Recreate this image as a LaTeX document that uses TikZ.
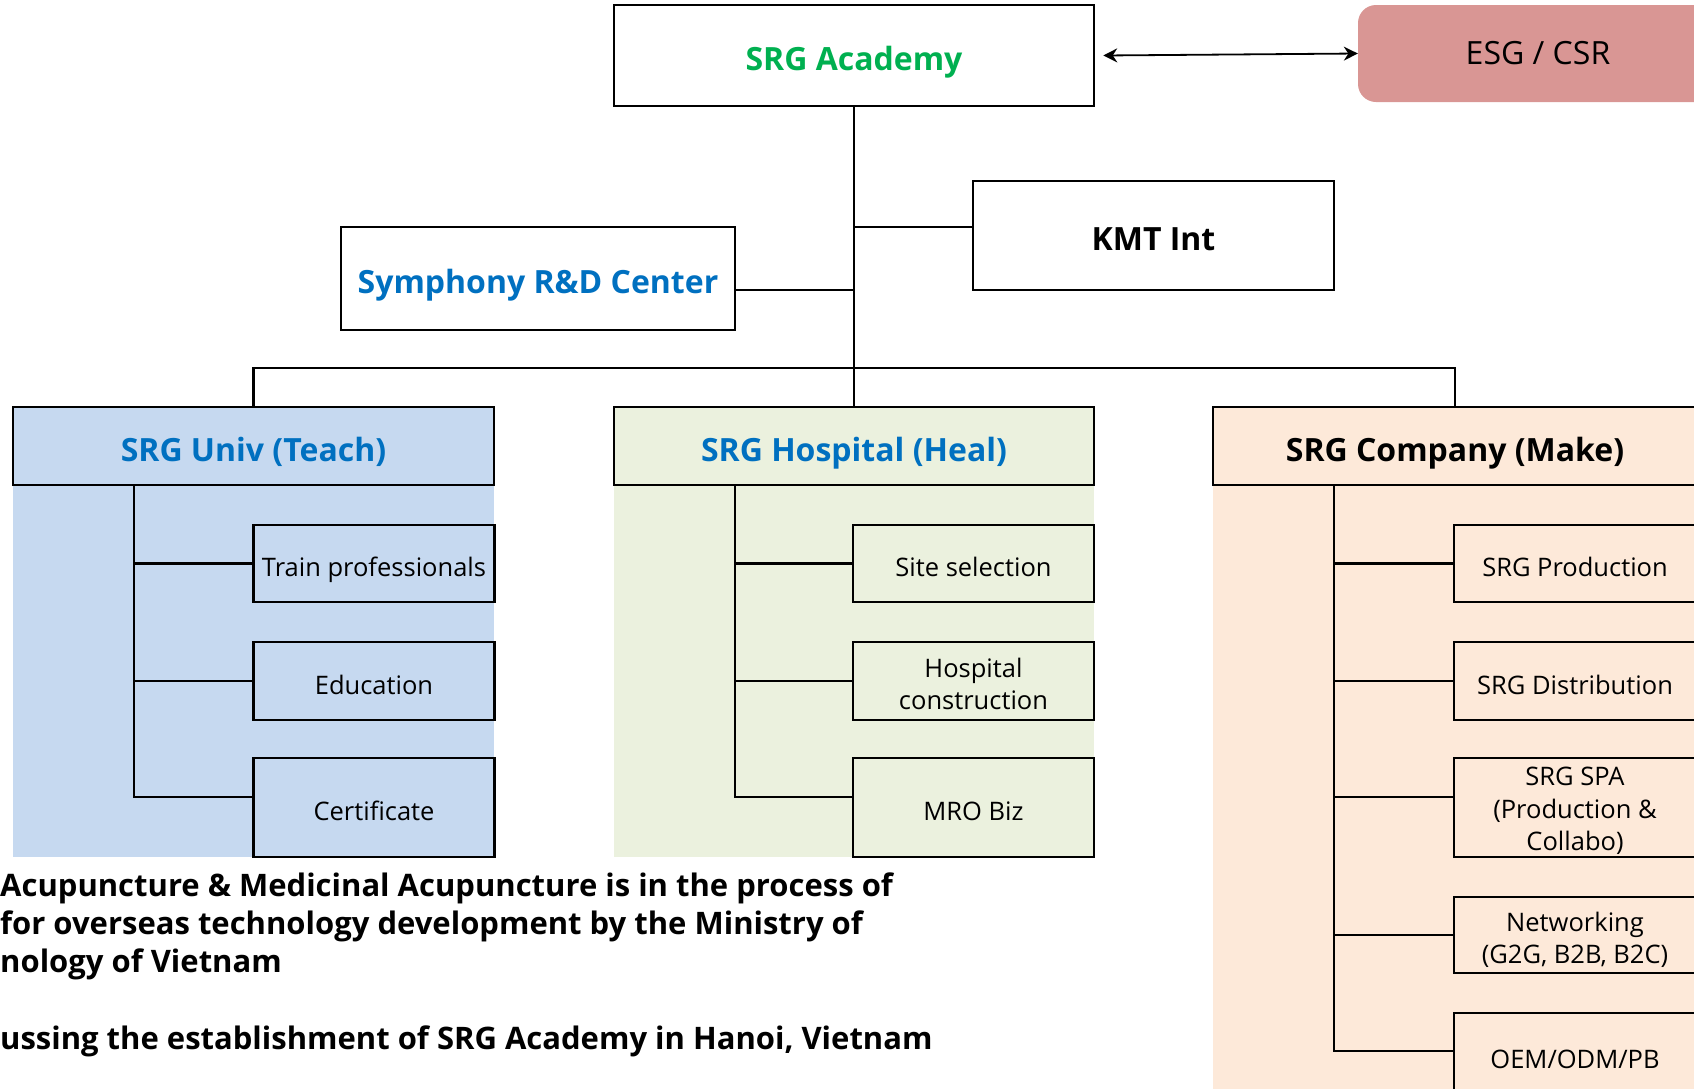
\documentclass[tikz,border=0pt]{standalone}
\usepackage{fontspec}
\setmainfont{Open Sans}
\usetikzlibrary{arrows.meta}
\definecolor{acgreen}{HTML}{00B050}
\definecolor{acblue}{HTML}{0070C0}
\definecolor{teachbg}{HTML}{C6D9F0}
\definecolor{healbg}{HTML}{EBF1DE}
\definecolor{makebg}{HTML}{FDE9D9}
\definecolor{esgbg}{HTML}{D99694}
\newcommand{\topgap}[1][31pt]{\rule{0pt}{#1}}
\tikzset{
  box/.style={draw, line width=2.5pt, inner sep=0pt, align=center},
  headfont/.style={font=\fontsize{32}{38}\selectfont\bfseries, text height=38pt, text depth=8pt},
  subfont/.style={font=\fontsize{25.5}{32.5}\selectfont, execute at begin node={\rule[-6pt]{0pt}{38pt}}},
  notefont/.style={font=\fontsize{31}{38}\selectfont\bfseries},
  link/.style={line width=2.5pt},
}
\begin{document}
\begin{tikzpicture}[x=1pt, y=-1pt, >={Stealth[length=14pt, width=14pt]}]
 \useasboundingbox (0,0) rectangle (1694,1088);
 \clip (0,0) rectangle (1694,1088);
 % coloured columns
 \fill[teachbg] (13,485) rectangle (494,857);
 \fill[healbg] (614,485) rectangle (1094,857);
 \fill[makebg] (1213,485) rectangle (1710,1100);
 % top level
 \node[box, headfont, text=acgreen, minimum width=480, minimum height=101] (academy) at (854,55.5) {SRG Academy};
 \node[fill=esgbg, rounded corners=18pt, minimum width=360, minimum height=97, font=\fontsize{32}{38}\selectfont] (esg) at (1538,53.5) {ESG / CSR};
 \draw[<->, line width=1.8pt] ([xshift=8pt]academy.east) -- (esg.west);
 \node[box, headfont, minimum width=361, minimum height=109] (kmt) at (1153.5,235.5) {KMT Int};
 \node[box, headfont, text=acblue, minimum width=394, minimum height=103] (rnd) at (538,278.5) {Symphony R\&D Center};
 \coordinate (bar) at (854,368);
 \coordinate (kj) at (854,227);
 \coordinate (rj) at (854,290);
 \draw[link] (academy.south) -- (bar);
 \draw[link] (kj) -- (kj -| kmt.west);
 \draw[link] (rj) -- (rj -| rnd.east);
 % three columns
 \node[box, headfont, fill=teachbg, text=acblue, minimum width=481, minimum height=78] (teach) at (253.5,446) {SRG Univ (Teach)};
 \node[box, headfont, fill=healbg, text=acblue, minimum width=480, minimum height=78] (heal) at (854,446) {SRG Hospital (Heal)};
 \node[box, headfont, fill=makebg, minimum width=484, minimum height=78] (make) at (1455,446) {SRG Company (Make)};
 \draw[link] (teach.north) |- (bar) -| (make.north);
 \draw[link] (bar) -- (heal.north);
 % sub boxes
 \foreach \n/\y/\h/\t in {1/563.5/77/Train professionals, 2/681/78/Education, 3/807.5/99/Certificate}
 {
     \node[box, subfont, minimum width=241, minimum height=\h] (teach\n) at (374,\y) {\t};
     \node[box, subfont, minimum width=241, minimum height=\h] (heal\n) at (973.5,\y) {\ifcase\n\or Site selection\or\topgap Hospital\\construction\or MRO Biz\fi};
 }
 \foreach \n/\y/\h/\t in {1/563.5/77/{SRG Production}, 2/681/78/{SRG Distribution}, 3/807.5/99/{\topgap[27pt]SRG SPA\\(Production \&\\Collabo)}, 4/935/76/{\topgap Networking\\(G2G, B2B, B2C)}, 5/1055/84/{OEM/ODM/PB}}
 {
     \node[box, subfont, minimum width=242, minimum height=\h] (make\n) at (1575,\y) {\t};
 }
 % branch lines
 \coordinate (teachspine) at (134,485);
 \coordinate (healspine) at (735,485);
 \coordinate (makespine) at (1334,485);
 \draw[link] (teachspine) |- ([yshift=10.5pt]teach3.west);
 \draw[link] (healspine) |- ([yshift=10.5pt]heal3.west);
 \draw[link] (makespine) |- ([yshift=4pt]make5.west);
 \foreach \n in {1,2}
 {
     \draw[link] (teachspine |- teach\n.west) -- (teach\n.west);
     \draw[link] (healspine |- heal\n.west) -- (heal\n.west);
 }
 \draw[link] (makespine |- make1.west) -- (make1.west);
 \draw[link] (makespine |- make2.west) -- (make2.west);
 \draw[link] ([yshift=10.5pt]make3.west -| makespine) -- ([yshift=10.5pt]make3.west);
 \draw[link] (makespine |- make4.west) -- (make4.west);
 % notes
 \node[notefont, anchor=base west, inner sep=0pt] (note1) at (0,896) {Acupuncture \& Medicinal Acupuncture is in the process of};
 \node[notefont, anchor=base west, inner sep=0pt] (note2) at (0,934) {for overseas technology development by the Ministry of};
 \node[notefont, anchor=base west, inner sep=0pt] (note3) at (0,972) {nology of Vietnam};
 \node[notefont, anchor=base west, inner sep=0pt] (note4) at (0,1049) {ussing the establishment of SRG Academy in Hanoi, Vietnam};
\end{tikzpicture}
\end{document}
